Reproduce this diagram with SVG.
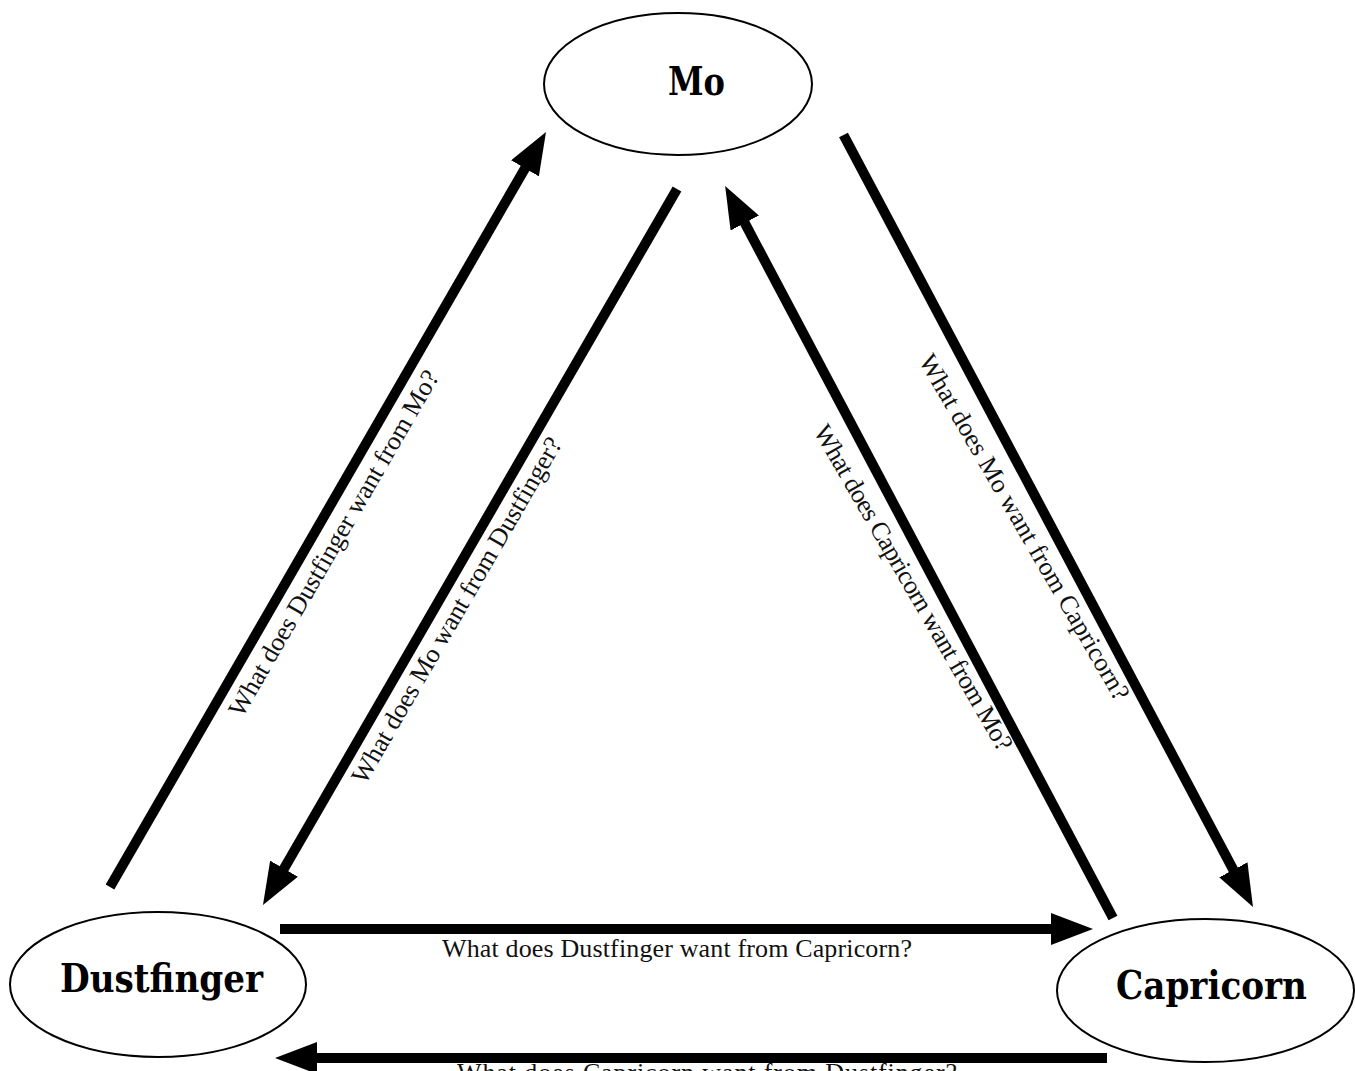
<svg xmlns="http://www.w3.org/2000/svg" width="1355" height="1071" viewBox="0 0 1355 1071">
<style>
.node ellipse{fill:#fff;stroke:#000;stroke-width:2}
.node text{font-family:"DejaVu Serif","Liberation Serif",serif;font-weight:bold;font-size:40px;fill:#000;text-anchor:middle}
.conn line{stroke:#000;stroke-width:10;fill:none;marker-end:url(#ah)}
.lbl{font-family:"Liberation Serif","DejaVu Serif",serif;font-size:26px;fill:#111;text-anchor:middle}
</style>
<defs>
<marker id="ah" markerUnits="userSpaceOnUse" viewBox="0 0 42 32" markerWidth="42" markerHeight="32" refX="10" refY="16" orient="auto">
<path d="M0,0 L42,16 L0,32 z" fill="#000"/>
</marker>
</defs>
<rect width="1355" height="1071" fill="#fff"/>
<g id="connectors" class="conn">
<line x1="110" y1="887" x2="530" y2="159.7"/>
<line x1="677" y1="189" x2="279" y2="877.3"/>
<line x1="1113" y1="918" x2="740.1" y2="214.2"/>
<line x1="843.5" y1="135" x2="1238" y2="878.7"/>
<line x1="280" y1="929" x2="1061" y2="929"/>
<line x1="1107" y1="1058" x2="307" y2="1058"/>
</g>
<g id="labels">
<text class="lbl" transform="translate(341,547.5) rotate(-60)" textLength="395">What does Dustfinger want from Mo?</text>
<text class="lbl" transform="translate(464,614.5) rotate(-60)" textLength="395">What does Mo want from Dustfinger?</text>
<text class="lbl" transform="translate(906,592) rotate(60)" textLength="372">What does Capricorn want from Mo?</text>
<text class="lbl" transform="translate(1017,531.5) rotate(60)" textLength="395">What does Mo want from Capricorn?</text>
<text class="lbl" x="677" y="957" textLength="470">What does Dustfinger want from Capricorn?</text>
<text class="lbl" x="707" y="1081" textLength="500">What does Capricorn want from Dustfinger?</text>
</g>
<g id="node-mo" class="node">
<ellipse cx="678" cy="84" rx="134" ry="71"/>
<text x="696.5" y="95" textLength="57" lengthAdjust="spacingAndGlyphs">Mo</text>
</g>
<g id="node-dustfinger" class="node">
<ellipse cx="158" cy="984.5" rx="148" ry="72.5"/>
<text x="161.5" y="992" textLength="203" lengthAdjust="spacingAndGlyphs">Dustfinger</text>
</g>
<g id="node-capricorn" class="node">
<ellipse cx="1205.5" cy="990.5" rx="148.5" ry="71.5"/>
<text x="1211.5" y="999" textLength="191" lengthAdjust="spacingAndGlyphs">Capricorn</text>
</g>
</svg>
